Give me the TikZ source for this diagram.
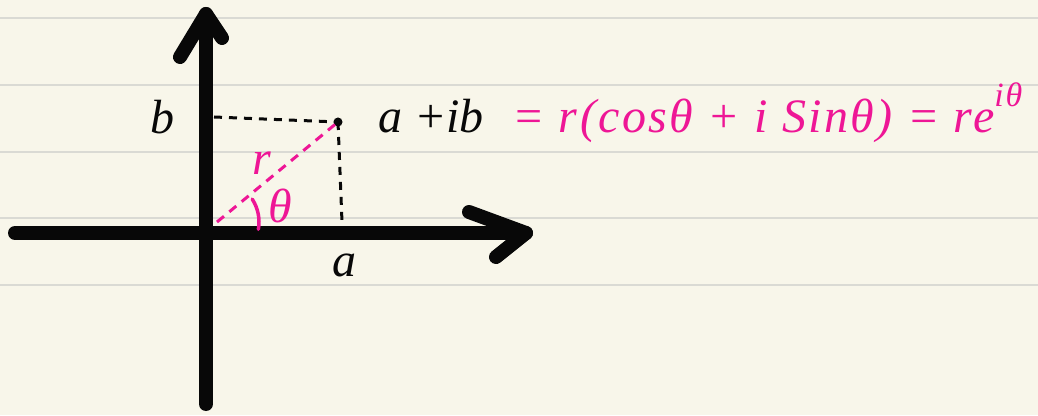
\documentclass[tikz,border=0pt]{standalone}
\usepackage{fontspec}
\usepackage{xcolor}
\usepackage{tikz}
\usetikzlibrary{calc}
\newfontfamily\handfont{Liberation Serif}
\newfontfamily\wideHandfont{Liberation Serif}[LetterSpace=5]
\definecolor{paper}{RGB}{248,246,234}
\definecolor{rule}{RGB}{218,218,212}
\definecolor{ink}{RGB}{8,8,8}
\definecolor{pinkink}{RGB}{238,22,150}
\newcommand{\handsize}{\handfont\itshape\fontsize{48}{52}\selectfont}
\newcommand{\widehandsize}{\wideHandfont\itshape\fontsize{48}{52}\selectfont}
\tikzset{
  axisline/.style={line width=14pt, color=ink, line cap=round, line join=round},
  guide/.style={line width=3pt, color=ink, dash pattern=on 8pt off 7pt},
  radius line/.style={line width=3pt, color=pinkink, dash pattern=on 9pt off 7pt},
  hand/.style={inner sep=0pt, color=ink, font=\handsize},
  pinkhand/.style={inner sep=0pt, color=pinkink, font=\handsize}
}

\begin{document}
\begin{tikzpicture}[x=1pt, y=1pt]
% paper with ruled lines
\fill[paper] (0,0) rectangle (1038,415);
\useasboundingbox (0,0) rectangle (1038,415);
\foreach \ry in {397,330,263,197,130}
  \draw[rule, line width=2pt] (0,\ry) -- (1038,\ry);

% axes
\coordinate (O) at (206,182);
\coordinate (xl) at (15,182);
\coordinate (xtip) at (526,182);
\coordinate (xarmU) at (469,203);
\coordinate (xarmD) at (496,158);
\coordinate (yb) at (206,11);
\coordinate (ytip) at (206,401);
\coordinate (yarmL) at (180,358);
\coordinate (yarmR) at (222,377);
\draw[axisline] (xl) -- (xtip);
\draw[axisline] (xarmU) -- (xtip) -- (xarmD);
\draw[axisline] (yb) -- (ytip);
\draw[axisline] (yarmL) -- (ytip) -- (yarmR);

% point a+ib and its projections
\coordinate (P) at (338,293);
\coordinate (Pb) at (214,298);
\coordinate (Pa) at (342,193);
\coordinate (Rs) at (217,193);
\draw[guide] (Pb) -- (P);
\draw[guide] (P) -- (Pa);
\fill[ink] (P) circle (4.5pt);
\draw[radius line] (Rs) -- (P);
\draw[pinkink, line width=3.5pt, line cap=round]
  ($(Rs)+(-10:42)$) arc[start angle=-10, end angle=33, radius=42];

% labels
\node[hand] (lblb) at (162,298) {b};
\node[hand] (lbla) at (344,150) {a};
\node[pinkhand] (lblr) at (262,252) {r};
\node[pinkhand] (lbltheta) at (280,209) {θ};
\node[hand, anchor=base west] (eqleft) at (378,282) {a +ib};
\node[pinkhand, anchor=base west, font=\widehandsize] (eqright) at (512,282)
  {= r(cosθ + i Sinθ) = re\raisebox{0.55em}{\fontsize{34}{34}\selectfont iθ}};
\end{tikzpicture}
\end{document}
